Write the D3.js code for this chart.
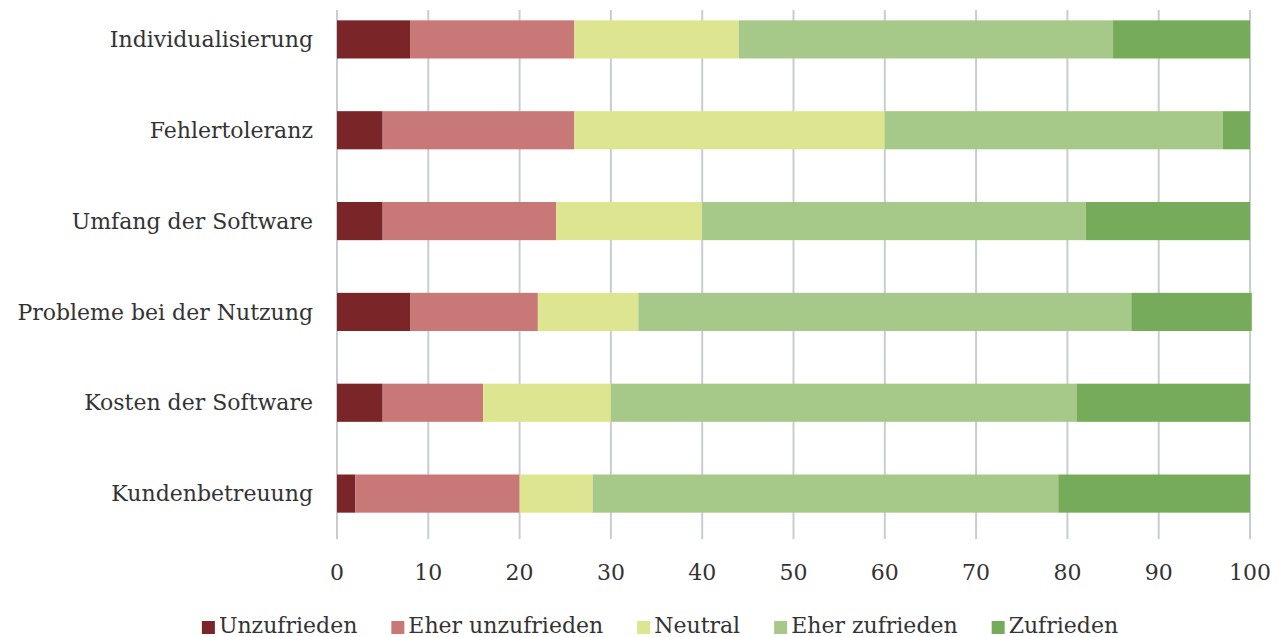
<!DOCTYPE html>
<html>
<head>
<meta charset="utf-8">
<script src="https://cdn.jsdelivr.net/npm/d3@7"></script>
<style>
  body { margin: 0; background: #fff; }
  text { font-family: "DejaVu Serif", serif; fill: #333; }
</style>
</head>
<body>
<svg id="chart" width="1278" height="637"></svg>
<script>
// categories from top to bottom
const categories = [
  "Individualisierung",
  "Fehlertoleranz",
  "Umfang der Software",
  "Probleme bei der Nutzung",
  "Kosten der Software",
  "Kundenbetreuung"
];
const seriesNames = ["Unzufrieden", "Eher unzufrieden", "Neutral", "Eher zufrieden", "Zufrieden"];
const seriesColors = ["#7a2628", "#c87876", "#dee590", "#a6c98a", "#76ac59"];

// values per series, in category order
const unzufrieden     = [8, 5, 5, 8, 5, 2];
const eherUnzufrieden = [18, 21, 19, 14, 11, 18];
const neutral         = [18, 34, 16, 11, 14, 8];
const eherZufrieden   = [41, 37, 42, 54, 51, 51];
const zufrieden       = [15, 3, 18, 13.2, 19, 21];

const xTicks = [0, 10, 20, 30, 40, 50, 60, 70, 80, 90, 100];

const rows = categories.map((c, i) => ({
  category: c,
  "Unzufrieden": unzufrieden[i],
  "Eher unzufrieden": eherUnzufrieden[i],
  "Neutral": neutral[i],
  "Eher zufrieden": eherZufrieden[i],
  "Zufrieden": zufrieden[i]
}));

const svg = d3.select("#chart");

const x = d3.scaleLinear().domain([0, 100]).range([337, 1250]);
const y = d3.scaleBand().domain(categories).range([-6, 539]).paddingInner(0.58).paddingOuter(0.29);
const color = d3.scaleOrdinal().domain(seriesNames).range(seriesColors);

// vertical gridlines
svg.append("g")
  .selectAll("line")
  .data(xTicks)
  .join("line")
    .attr("x1", d => x(d)).attr("x2", d => x(d))
    .attr("y1", 10).attr("y2", 539)
    .attr("stroke", "#c9cdd0")
    .attr("stroke-width", 2);

// stacked bars
const stacked = d3.stack().keys(seriesNames)(rows);
svg.append("g")
  .selectAll("g")
  .data(stacked)
  .join("g")
    .attr("fill", d => color(d.key))
  .selectAll("rect")
  .data(d => d)
  .join("rect")
    .attr("x", d => x(d[0]))
    .attr("width", d => x(d[1]) - x(d[0]))
    .attr("y", d => y(d.data.category))
    .attr("height", y.bandwidth());

// category labels
svg.append("g")
  .selectAll("text")
  .data(categories)
  .join("text")
    .attr("x", 313)
    .attr("y", d => y(d) + y.bandwidth() / 2)
    .attr("dy", "0.35em")
    .attr("text-anchor", "end")
    .attr("font-size", 22)
    .text(d => d);

// x tick labels
svg.append("g")
  .selectAll("text")
  .data(xTicks)
  .join("text")
    .attr("x", d => x(d))
    .attr("y", 580)
    .attr("text-anchor", "middle")
    .attr("font-size", 22)
    .text(d => d);

// legend
const legend = svg.append("g");
const items = legend.selectAll("g")
  .data(seriesNames)
  .join("g");
items.append("rect")
  .attr("width", 13).attr("height", 13)
  .attr("y", 621)
  .attr("fill", d => color(d));
items.append("text")
  .attr("x", 17)
  .attr("y", 633)
  .attr("font-size", 22)
  .text(d => d);

let cx = 0;
items.each(function () {
  const w = 17 + d3.select(this).select("text").node().getComputedTextLength();
  d3.select(this).attr("transform", `translate(${cx},0)`);
  cx += w + 34;
});
const total = cx - 34;
legend.attr("transform", `translate(${660 - total / 2},0)`);
</script>
</body>
</html>
